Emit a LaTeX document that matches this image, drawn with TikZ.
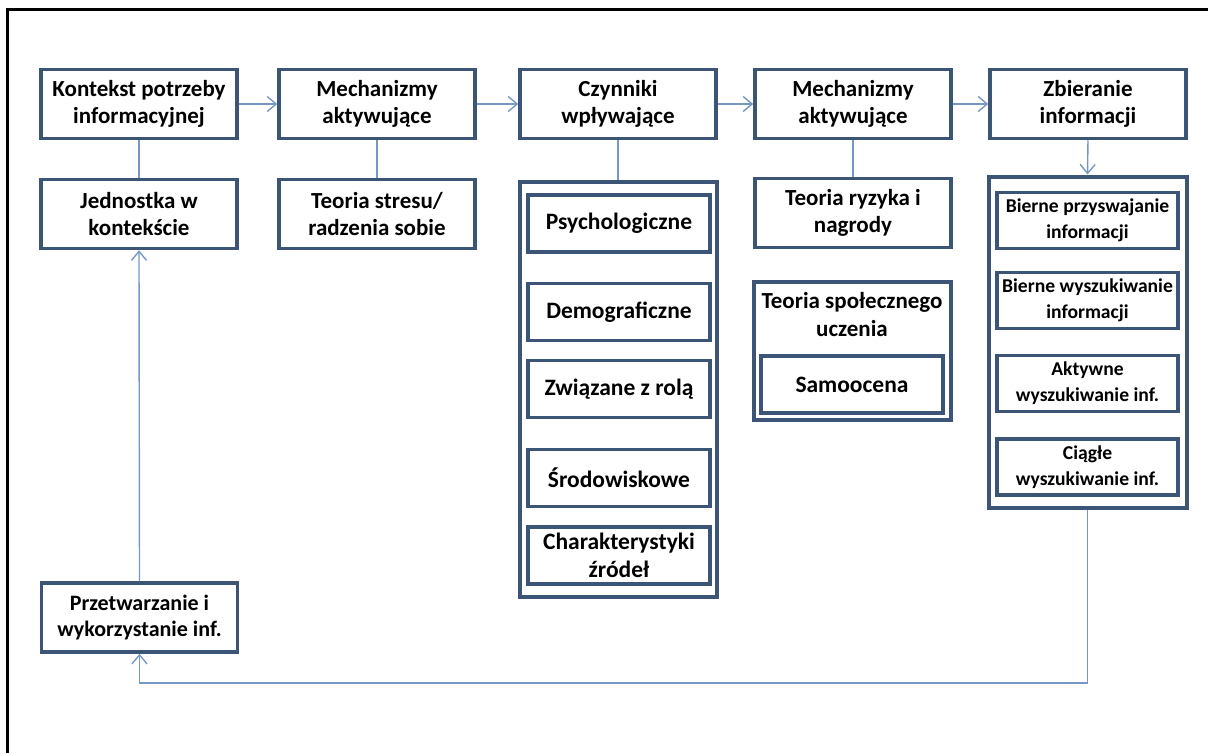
\documentclass[tikz,border=0pt]{standalone}
\usepackage{fontspec}
\setmainfont{Carlito}
\usetikzlibrary{arrows.meta}
\definecolor{boxc}{RGB}{60,84,118}
\definecolor{linec}{RGB}{120,152,196}
\tikzset{
  box/.style={draw=boxc, line width=3.5pt, fill=white, align=center, inner sep=0pt,
    minimum width=196pt, minimum height=69pt,
    font=\bfseries\fontsize{23}{27.5}\selectfont},
  container/.style={draw=boxc, line width=4pt, fill=white, inner sep=0pt},
  inbox/.style={draw=boxc, line width=3.5pt, fill=white, align=center, inner sep=0pt,
    minimum width=182pt, minimum height=57pt,
    font=\bfseries\fontsize{23.5}{28}\selectfont},
  smallbox/.style={inbox, minimum width=181pt, minimum height=56pt,
    font=\bfseries\fontsize{19.6}{26}\selectfont},
  conn/.style={draw=linec, line width=1.4pt},
  arr/.style={conn, -{Straight Barb[length=9pt,width=15pt,line width=1.4pt]}}
}
\begin{document}
\begin{tikzpicture}[x=1pt,y=-1pt]
\useasboundingbox (0,0) rectangle (1208,753);
\fill[white] (0,0) rectangle (1208,753);
\draw[line width=3pt] (1208,9) -- (7,9) -- (7,753);

% top row
\node[box] (ctx) at (139,104) {Kontekst potrzeby\\informacyjnej};
\node[box] (mech1) at (377,104) {Mechanizmy\\aktywujące};
\node[box] (czyn) at (618,104) {Czynniki\\wpływające};
\node[box] (mech2) at (853,104) {Mechanizmy\\aktywujące};
\node[box] (zbier) at (1088,104) {Zbieranie\\informacji};

% second row
\node[box] (jedn) at (139,214) {Jednostka w\\kontekście};
\node[box] (stres) at (377,214) {Teoria stresu/\\radzenia sobie};
\node[box] (ryzyko) at (853,213) {Teoria ryzyka i\\nagrody};

% Czynniki container
\node[container, minimum width=197pt, minimum height=415pt] (czc) at (618,389) {};
\node[inbox] (psych) at (619,223.5) {Psychologiczne};
\node[inbox] (demo) at (619,312) {Demograficzne};
\node[inbox] (rola) at (619,389) {Związane z rolą};
\node[inbox] (srod) at (619,478) {Środowiskowe};
\node[inbox] (charak) at (619,555.5) {Charakterystyki\\źródeł};

% social learning container
\node[container, minimum width=197pt, minimum height=138pt] (spc) at (852,350.5) {};
\node[font=\bfseries\fontsize{23}{28}\selectfont, align=center] (sptxt) at (852,315) {Teoria społecznego\\uczenia};
\node[inbox] (samo) at (852,384.5) {Samoocena};

% Zbieranie container
\node[container, minimum width=198pt, minimum height=331pt] (zbc) at (1087.5,342) {};
\node[smallbox] (b1) at (1087.5,220.5) {Bierne przyswajanie\\informacji};
\node[smallbox] (b2) at (1087.5,300.5) {Bierne wyszukiwanie\\informacji};
\node[smallbox] (b3) at (1087.5,383.5) {Aktywne\\wyszukiwanie inf.};
\node[smallbox] (b4) at (1087.5,467) {Ciągłe\\wyszukiwanie inf.};

% processing
\node[box, font=\bfseries\fontsize{22}{26}\selectfont] (przet) at (139.5,617.5) {Przetwarzanie i\\wykorzystanie inf.};

% connectors
\draw[arr] (ctx.east) -- (mech1.west);
\draw[arr] (mech1.east) -- (czyn.west);
\draw[arr] (czyn.east) -- (mech2.west);
\draw[arr] (mech2.east) -- (zbier.west);
\draw[conn] (ctx.south) -- (jedn.north);
\draw[conn] (mech1.south) -- (stres.north);
\draw[conn] (czyn.south) -- (czc.north);
\draw[conn] (mech2.south) -- (ryzyko.north);
\draw[arr] (zbier.south) -- (zbc.north);
\coordinate (loop) at (1087.5,683);
\draw[arr] (zbc.south) -- (loop) -| (przet.south);
\draw[arr] (przet.north) -- (jedn.south);
\end{tikzpicture}
\end{document}
